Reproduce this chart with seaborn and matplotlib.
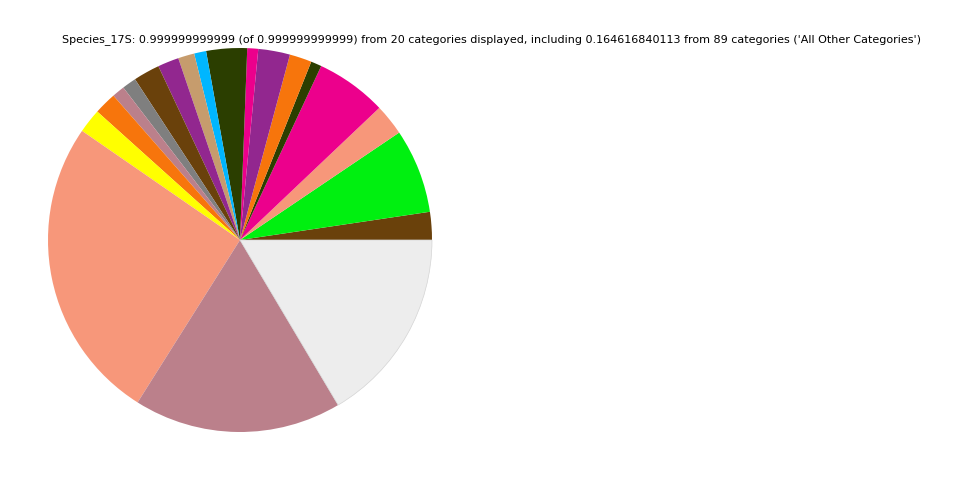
import matplotlib
matplotlib.use("Agg")
import matplotlib.pyplot as plt
import seaborn as sns

sns.set_theme(style="white")
plt.rcParams['font.family'] = ['DejaVu Sans']

# slice fractions, counterclockwise from 3 o'clock
categories = ["Taxon %d" % i for i in range(1, 20)] + ["All Other Categories"]
fractions = [0.0235, 0.0710, 0.0263, 0.0597, 0.0090, 0.0186, 0.0267, 0.0092,
             0.0343, 0.0101, 0.0137, 0.0178, 0.0222, 0.0119, 0.0106, 0.0188,
             0.0204, 0.2567, 0.1749, 0.164616840113]
colors = ["#6a410b", "#00f010", "#f7977a", "#ec008c", "#2b3e00", "#f7750c",
          "#92278f", "#ec008c", "#2b3e00", "#00b6ff", "#c69c6d", "#92278f",
          "#6a410b", "#7f7f7f", "#bb808b", "#f7750c", "#ffff00", "#f7977a",
          "#bb808b", "#ededed"]

title = ("Species_17S: 0.999999999999 (of 0.999999999999) from 20 categories displayed, "
         "including 0.164616840113 from 89 categories ('All Other Categories')")

fig = plt.figure(figsize=(9.6, 4.8), dpi=100)
ax = fig.add_axes([48 / 960, 48 / 480, 384 / 960, 384 / 480])
wedges, _ = ax.pie(fractions, colors=colors, startangle=0, counterclock=True,
                   radius=1, wedgeprops=dict(linewidth=0))
wedges[-1].set_edgecolor("#d4d4d4")
wedges[-1].set_linewidth(0.5)
ax.set_xlim(-1, 1)
ax.set_ylim(-1, 1)
ax.set_aspect("equal")
ax.axis("off")

fig.text(492 / 960, 1 - 40 / 480, title, ha="center", va="center",
         fontsize=8, color="black")

fig.savefig("out.png", dpi=100)
